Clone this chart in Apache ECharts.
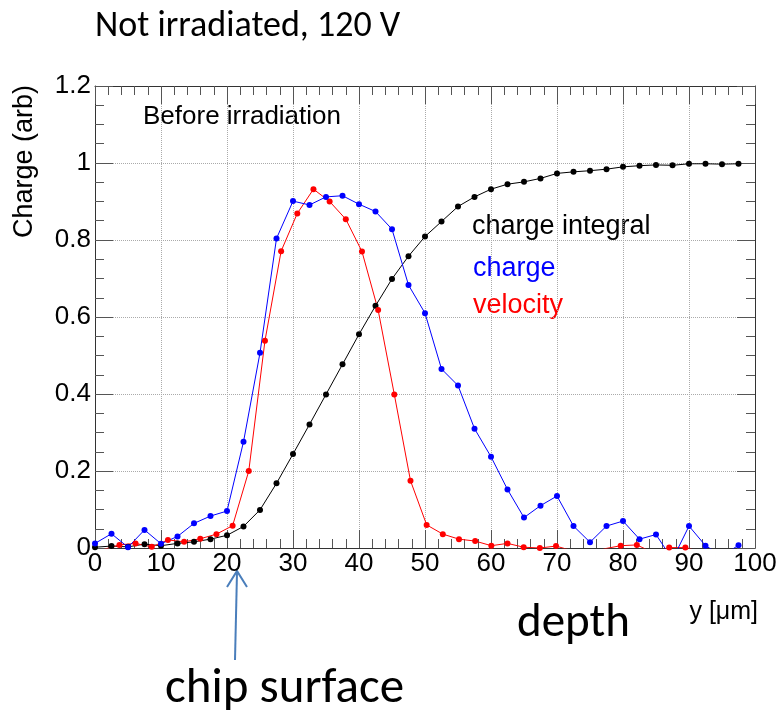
<!DOCTYPE html>
<html>
<head>
<meta charset="utf-8">
<script src="https://cdn.jsdelivr.net/npm/echarts@6/dist/echarts.min.js"></script>
<style>
  html, body { margin: 0; padding: 0; background: #fff; }
  #chart { width: 782px; height: 718px; }
</style>
</head>
<body>
<div id="chart"></div>
<script>
// Depth positions (µm) for the charge and charge-integral profiles
var depthCharge = [0, 2.5, 5, 7.5, 10, 12.5, 15, 17.5, 20, 22.5, 25, 27.5, 30, 32.5, 35, 37.5,
  40, 42.5, 45, 47.5, 50, 52.5, 55, 57.5, 60, 62.5, 65, 67.5, 70, 72.5, 75, 77.5,
  80, 82.5, 85, 87.5, 90, 92.5, 95, 97.5];

// Collected charge per depth bin
var chargeValues = [0.012, 0.037, 0.002, 0.047, 0.011, 0.030, 0.064, 0.083, 0.096, 0.276,
  0.507, 0.804, 0.901, 0.891, 0.912, 0.915, 0.893, 0.874, 0.828, 0.683,
  0.610, 0.465, 0.422, 0.310, 0.237, 0.152, 0.079, 0.110, 0.135, 0.057,
  0.015, 0.057, 0.070, 0.023, 0.035, -0.030, 0.057, 0.006, -0.020, 0.007];

// Running integral of the charge, normalised to 1
var integralValues = [0.002, 0.005, 0.003, 0.010, 0.006, 0.012, 0.016, 0.023, 0.033, 0.056,
  0.099, 0.168, 0.244, 0.321, 0.399, 0.477, 0.555, 0.629, 0.699, 0.758,
  0.809, 0.848, 0.887, 0.912, 0.932, 0.945, 0.951, 0.960, 0.973, 0.977,
  0.980, 0.984, 0.990, 0.993, 0.995, 0.994, 0.998, 0.998, 0.997, 0.998];

// Depth positions (µm) for the velocity profile
var depthVelocity = [1.25, 3.7, 6.15, 8.6, 11.05, 13.5, 15.95, 18.4, 20.85, 23.3, 25.75, 28.2,
  30.65, 33.1, 35.55, 38.0, 40.45, 42.9, 45.35, 47.8, 50.25, 52.7, 55.15, 57.6,
  60.05, 62.5, 64.95, 67.4, 69.85, 72.3, 74.75, 77.2, 79.65, 82.1, 84.55, 87.0,
  89.45, 91.9, 94.35, 96.8, 99.25];

// Drift velocity per depth bin
var velocityValues = [-0.004, 0.008, 0.012, 0.003, 0.021, 0.016, 0.024, 0.036, 0.058, 0.200,
  0.538, 0.771, 0.869, 0.932, 0.900, 0.854, 0.770, 0.618, 0.399, 0.175,
  0.060, 0.036, 0.023, 0.018, 0.006, 0.012, 0.002, 0.000, 0.005, -0.007,
  -0.020, -0.002, 0.006, 0.008, -0.012, 0.001, 0.001, -0.010, -0.010, -0.010, -0.010];

var xTicks = [0, 10, 20, 30, 40, 50, 60, 70, 80, 90, 100];
var yTicks = [0, 0.2, 0.4, 0.6, 0.8, 1, 1.2];

function pairs(xs, ys) {
  return xs.map(function (x, i) { return [x, ys[i]]; });
}

var SANS = '"Liberation Sans", Arial, Helvetica, sans-serif';
var SLIDE = 'Carlito, Lato, "Open Sans", sans-serif';
var FRAME = '#333';
var TICK = '#555';

function frameAxis(extra) {
  var base = {
    type: 'value',
    axisLine: { show: true, onZero: false, lineStyle: { color: FRAME, width: 1 } },
    axisTick: { show: true, inside: true, length: 18, lineStyle: { color: TICK } },
    minorTick: { show: true, length: 9, lineStyle: { color: TICK } },
    splitLine: { show: false },
    axisLabel: { show: false }
  };
  for (var k in extra) base[k] = extra[k];
  return base;
}

var chart = echarts.init(document.getElementById('chart'), null, { renderer: 'canvas' });

var option = {
  backgroundColor: '#fff',
  animation: false,
  grid: { left: 95, top: 86, width: 660, height: 462, containLabel: false },
  xAxis: [
    frameAxis({
      position: 'bottom',
      min: xTicks[0], max: xTicks[xTicks.length - 1], interval: xTicks[1] - xTicks[0],
      minorTick: { show: true, splitNumber: 5, length: 9, lineStyle: { color: TICK } },
      axisLabel: { show: true, color: '#000', fontFamily: SANS, fontSize: 26, margin: 3 },
      splitLine: { show: true, lineStyle: { color: '#aaa', type: 'dotted', width: 1 } }
    }),
    frameAxis({
      position: 'top',
      min: xTicks[0], max: xTicks[xTicks.length - 1], interval: xTicks[1] - xTicks[0],
      minorTick: { show: true, splitNumber: 5, length: 9, lineStyle: { color: TICK } }
    })
  ],
  yAxis: [
    frameAxis({
      position: 'left',
      min: yTicks[0], max: yTicks[yTicks.length - 1], interval: yTicks[1] - yTicks[0],
      minorTick: { show: true, splitNumber: 4, length: 9, lineStyle: { color: TICK } },
      axisLabel: { show: true, color: '#000', fontFamily: SANS, fontSize: 26, margin: 4 },
      splitLine: { show: true, lineStyle: { color: '#aaa', type: 'dotted', width: 1 } }
    }),
    frameAxis({
      position: 'right',
      min: yTicks[0], max: yTicks[yTicks.length - 1], interval: yTicks[1] - yTicks[0],
      minorTick: { show: true, splitNumber: 4, length: 9, lineStyle: { color: TICK } }
    })
  ],
  series: [
    {
      name: 'charge integral', type: 'line', clip: true,
      data: pairs(depthCharge, integralValues),
      symbol: 'circle', symbolSize: 6,
      itemStyle: { color: '#000' }, lineStyle: { color: '#000', width: 1 }
    },
    {
      name: 'velocity', type: 'line', clip: true,
      data: pairs(depthVelocity, velocityValues),
      symbol: 'circle', symbolSize: 6,
      itemStyle: { color: '#ff0000' }, lineStyle: { color: '#ff0000', width: 1 }
    },
    {
      name: 'charge', type: 'line', clip: true,
      data: pairs(depthCharge, chargeValues),
      symbol: 'circle', symbolSize: 6,
      itemStyle: { color: '#0000ff' }, lineStyle: { color: '#0000ff', width: 1 }
    }
  ],
  graphic: [
    { type: 'text', left: 95, top: 9, style: { text: 'Not irradiated, 120 V', font: '36px ' + SLIDE, fill: '#000' } },
    { type: 'text', x: 25, y: 85, rotation: Math.PI / 2,
      style: { text: 'Charge (arb)', font: '27px ' + SANS, fill: '#000', align: 'right', verticalAlign: 'middle' } },
    { type: 'text', x: 143, y: 117, style: { text: 'Before irradiation', font: '26px ' + SANS, fill: '#000', verticalAlign: 'middle' } },
    { type: 'text', x: 472, y: 227, style: { text: 'charge integral', font: '27px ' + SANS, fill: '#000', verticalAlign: 'middle' } },
    { type: 'text', x: 473, y: 269, style: { text: 'charge', font: '27px ' + SANS, fill: '#0000ff', verticalAlign: 'middle' } },
    { type: 'text', x: 473, y: 306, style: { text: 'velocity', font: '27px ' + SANS, fill: '#ff0000', verticalAlign: 'middle' } },
    { type: 'text', x: 758, y: 612, style: { text: 'y [μm]', font: '25px ' + SANS, fill: '#000', align: 'right', verticalAlign: 'middle' } },
    { type: 'text', x: 517, y: 624, style: { text: 'depth', font: '47px ' + SLIDE, fill: '#000', verticalAlign: 'middle' } },
    { type: 'text', x: 165, y: 690, style: { text: 'chip surface', font: '49px ' + SLIDE, fill: '#000', verticalAlign: 'middle' } },
    // arrow pointing at the chip surface
    { type: 'polyline', shape: { points: [[235, 660], [237, 572]] }, style: { stroke: '#4a7ebb', lineWidth: 2, fill: null } },
    { type: 'polyline', shape: { points: [[227, 587], [237, 571], [247, 587]] }, style: { stroke: '#4a7ebb', lineWidth: 2, fill: null } }
  ]
};

chart.setOption(option);
</script>
</body>
</html>
